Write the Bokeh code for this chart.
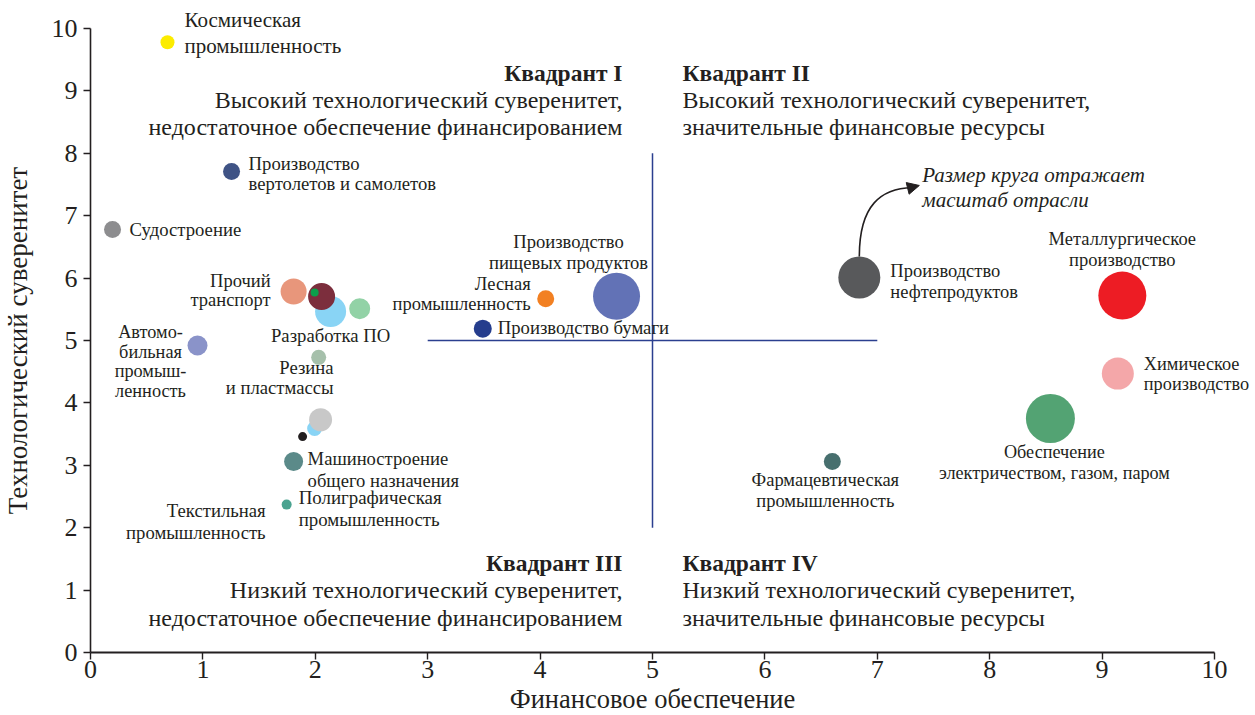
import math
from bokeh.plotting import figure
from bokeh.models import Range1d, Arrow, NormalHead, ColumnDataSource, FixedTicker, Label
from bokeh.embed import file_html
from bokeh.resources import INLINE

# ---------------- data ----------------
industries = [
    "Космическая промышленность", "Производство вертолетов и самолетов", "Судостроение",
    "Прочий транспорт", "Разработка ПО", "Прочее 1", "Прочее 2", "Прочее 3",
    "Автомобильная промышленность", "Резина и пластмассы", "Прочее 4", "Прочее 5",
    "Прочее 6", "Машиностроение общего назначения", "Полиграфическая промышленность",
    "Лесная промышленность", "Производство пищевых продуктов", "Производство бумаги",
    "Производство нефтепродуктов", "Металлургическое производство", "Химическое производство",
    "Обеспечение электричеством, газом, паром", "Фармацевтическая промышленность",
]
fin = [0.685, 1.255, 0.196, 1.807, 2.136, 2.056, 1.994, 2.395, 0.952, 2.03, 1.994, 2.047,
       1.887, 1.807, 1.745, 4.05, 4.68, 3.49, 6.84, 9.18, 9.14, 8.54, 6.60]
tech = [9.78, 7.71, 6.78, 5.785, 5.465, 5.705, 5.77, 5.51, 4.92, 4.73, 3.59, 3.73,
        3.46, 3.06, 2.37, 5.67, 5.71, 5.19, 6.01, 5.72, 4.47, 3.75, 3.06]
scale = [1.4, 1.7, 1.7, 2.6, 3.1, 2.7, 0.8, 2.1, 2.0, 1.5, 1.5, 2.3,
         0.9, 1.9, 1.0, 1.7, 4.7, 1.8, 4.2, 4.8, 3.2, 4.9, 1.7]
colors = ["#fcec00", "#3f5385", "#8d8d8f", "#e8967b", "#89d4f5", "#7c2e3d", "#0aa04b", "#92d2a6",
          "#8a93c9", "#a6c0ab", "#89d4f5", "#c8c8c8", "#231f20", "#5b8a89", "#4aa390",
          "#f28022", "#6272b6", "#253d8d", "#58595b", "#ed1c24", "#f4a7a9", "#53a373", "#476f6e"]

fin_threshold = 5
tech_threshold = 5

xticks = list(range(0, 11))
yticks = list(range(0, 11))
axis_min, axis_max = 0, 10

# label layout: (text, point index, dx px, dy px (down), align, font px, line spacing px)
labels = [
    ("Космическая\nпромышленность", 0, 17, -9, "left", 21, 26),
    ("Производство\nвертолетов и самолетов", 1, 17, 2, "left", 18.7, 21),
    ("Судостроение", 2, 17, 0, "left", 18.7, 21),
    ("Прочий\nтранспорт", 3, -23, -1, "right", 18.5, 20),
    ("Разработка ПО", 4, 0, 24, "center", 18.7, 21),
    ("Автомо-\nбильная\nпромыш-\nленность", 8, -47, 16, "center", 18.3, 20.5),
    ("Резина\nи пластмассы", 9, 15, 20, "right", 18.7, 20),
    ("Машиностроение\nобщего назначения", 13, 14, 8, "left", 18.6, 22),
    ("Полиграфическая\nпромышленность", 14, 12, 4, "left", 18.9, 22),
    ("Текстильная\nпромышленность", 14, -21, 17, "right", 18.7, 23),
    ("Производство\nпищевых продуктов", 16, -48, -44, "center", 18.6, 21),
    ("Лесная\nпромышленность", 15, -15, -5, "right", 18.5, 21),
    ("Производство бумаги", 17, 15, -1, "left", 18.7, 21),
    ("Производство\nнефтепродуктов", 18, 31, 4, "left", 18.5, 22),
    ("Металлургическое\nпроизводство", 19, 0, -46, "center", 18.5, 22),
    ("Химическое\nпроизводство", 20, 26, 0, "left", 18.3, 21),
    ("Обеспечение\nэлектричеством, газом, паром", 21, 4, 44, "center", 18.2, 21),
    ("Фармацевтическая\nпромышленность", 22, -7, 29, "center", 18.5, 22),
]

FONT = "Liberation Serif"
INK = "#231f20"
LH_METRIC = 1.14  # font height / font size used by the text layout

# canvas geometry: the data frame spans the whole canvas; axes are drawn at fixed locations
W, H = 1250, 715
OX, OY = 90, 652          # pixel position of data origin
PXX, PXY = 112.4, 62.4    # pixels per data unit
xr = Range1d(-OX / PXX, (W - OX) / PXX)
yr = Range1d(-(H - OY) / PXY, OY / PXY)

p = figure(width=W, height=H, output_backend="svg", toolbar_location=None,
           x_range=xr, y_range=yr, min_border=0,
           min_border_left=0, min_border_right=0, min_border_top=0, min_border_bottom=0)
p.outline_line_color = None
p.grid.visible = False

for ax in (p.xaxis[0], p.yaxis[0]):
    ax.fixed_location = 0
    ax.bounds = (axis_min, axis_max)
    ax.axis_line_color = INK
    ax.axis_line_width = 1.6
    ax.major_tick_line_color = INK
    ax.major_tick_line_width = 1.4
    ax.major_tick_out = 7
    ax.major_tick_in = 0
    ax.minor_tick_line_color = None
    ax.major_label_text_font = FONT
    ax.major_label_text_font_size = "26px"
    ax.major_label_text_color = INK

p.xaxis[0].ticker = FixedTicker(ticks=xticks)
p.yaxis[0].ticker = FixedTicker(ticks=yticks)
p.xaxis[0].major_label_standoff = 1
p.yaxis[0].major_label_standoff = 6
p.xaxis[0].axis_line_width = 2.2

p.add_layout(Label(x=(axis_min + axis_max) / 2, y=axis_min, text="Финансовое обеспечение", y_offset=-46,
                   text_align="center", text_baseline="middle", text_font=FONT,
                   text_font_size="26.5px", text_color=INK))
p.add_layout(Label(x=axis_min, y=(axis_min + axis_max) / 2, text="Технологический суверенитет", x_offset=-73,
                   angle=math.pi / 2, text_align="center", text_baseline="middle", text_font=FONT,
                   text_font_size="27px", text_color=INK))

# quadrant lines
p.segment(x0=[fin_threshold, 3], y0=[2, tech_threshold], x1=[fin_threshold, 7], y1=[8, tech_threshold],
          line_color="#2b3f8f", line_width=1.5)

# bubbles
src = ColumnDataSource(dict(x=fin, y=tech, s=[v * 10 for v in scale], c=colors))
p.scatter("x", "y", size="s", fill_color="c", line_color=None, source=src)

# point labels
for txt, idx, dx, dy, al, fs, sp in labels:
    p.add_layout(Label(x=fin[idx], y=tech[idx], text=txt, x_offset=dx, y_offset=-dy,
                       text_align=al, text_baseline="middle", text_font=FONT,
                       text_font_size=f"{fs}px", text_color=INK,
                       text_line_height=sp / (fs * LH_METRIC)))

# quadrant texts
quads = [
    ("Квадрант I", "Высокий технологический суверенитет,\nнедостаточное обеспечение финансированием", -1, 9.29, "right"),
    ("Квадрант II", "Высокий технологический суверенитет,\nзначительные финансовые ресурсы", 1, 9.29, "left"),
    ("Квадрант III", "Низкий технологический суверенитет,\nнедостаточное обеспечение финансированием", -1, 1.43, "right"),
    ("Квадрант IV", "Низкий технологический суверенитет,\nзначительные финансовые ресурсы", 1, 1.43, "left"),
]
for title, body, side, ty, al in quads:
    p.add_layout(Label(x=fin_threshold, y=ty, text=title, x_offset=side * 30, text_align=al,
                       text_baseline="middle", text_font=FONT, text_font_size="23.5px",
                       text_font_style="bold", text_color=INK))
    p.add_layout(Label(x=fin_threshold, y=ty, text=body, x_offset=side * 30, y_offset=-14, text_align=al,
                       text_baseline="top", text_font=FONT, text_font_size="24px",
                       text_color=INK, text_line_height=1.05))

# size note with curved arrow from the oil-products bubble
oi = 18
sx, sy = fin[oi], tech[oi] + 21 / PXY
p.bezier(x0=[sx], y0=[sy], x1=[sx + 53 / PXX], y1=[sy + 69 / PXY],
         cx0=[sx], cy0=[sy + 52 / PXY], cx1=[sx + 22 / PXX], cy1=[sy + 68 / PXY],
         line_color=INK, line_width=1.6)
p.add_layout(Arrow(x_start=sx + 50 / PXX, y_start=sy + 68.5 / PXY, x_end=sx + 60 / PXX, y_end=sy + 71 / PXY,
                   line_color=INK, line_width=1.6,
                   end=NormalHead(size=12, fill_color=INK, line_color=INK)))
p.add_layout(Label(x=sx + 63 / PXX, y=sy + 70 / PXY, text="Размер круга отражает\nмасштаб отрасли",
                   text_align="left", text_baseline="top", text_font=FONT, text_font_size="21px",
                   text_font_style="italic", text_color=INK, text_line_height=1.02, y_offset=23))

open("out.html", "w").write(file_html(p, INLINE))
